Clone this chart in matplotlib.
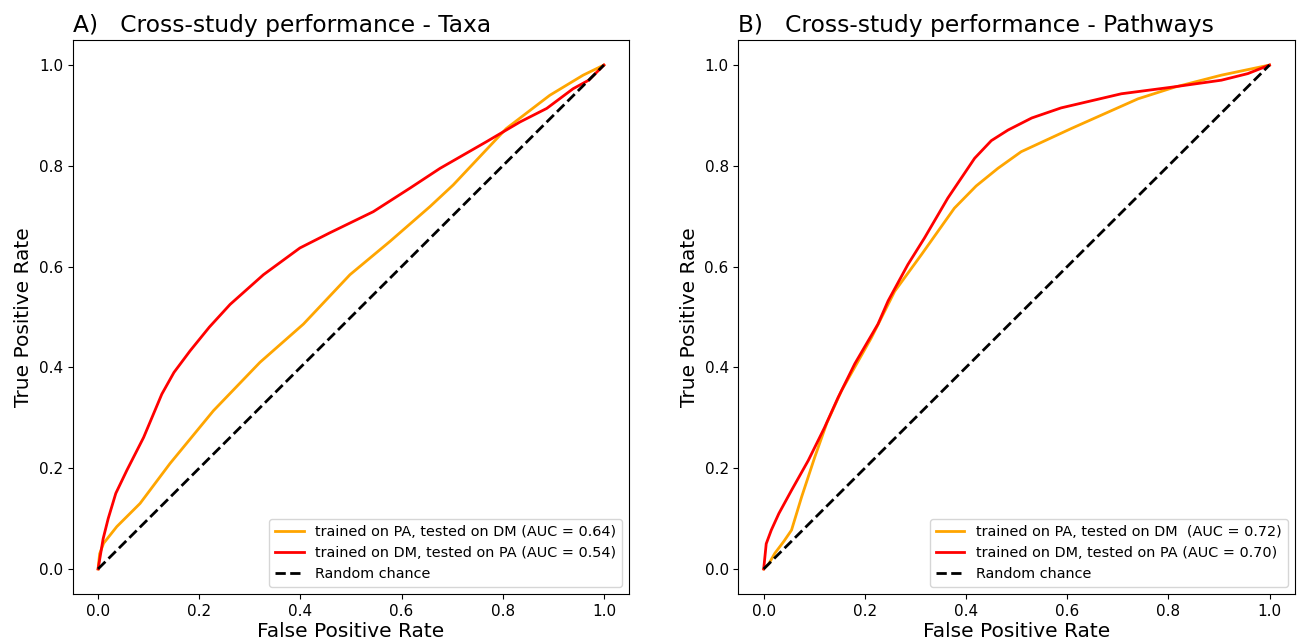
import numpy as np
import matplotlib.pyplot as plt

# ROC curve points (FPR, TPR)
taxa_pa_dm_fpr = [0.0, 0.003, 0.011, 0.037, 0.083, 0.142, 0.228, 0.32, 0.406, 0.498, 0.577, 0.656, 0.702, 0.807, 0.893, 0.959, 1.0]
taxa_pa_dm_tpr = [0.0, 0.03, 0.051, 0.084, 0.13, 0.209, 0.314, 0.41, 0.486, 0.584, 0.65, 0.719, 0.762, 0.874, 0.94, 0.98, 1.0]
taxa_dm_pa_fpr = [0.0, 0.01, 0.02, 0.035, 0.057, 0.09, 0.126, 0.15, 0.182, 0.22, 0.261, 0.327, 0.399, 0.458, 0.544, 0.617, 0.676, 0.768, 0.834, 0.887, 0.939, 0.97, 1.0]
taxa_dm_pa_tpr = [0.0, 0.06, 0.1, 0.15, 0.196, 0.261, 0.347, 0.39, 0.433, 0.48, 0.525, 0.584, 0.637, 0.667, 0.709, 0.756, 0.795, 0.848, 0.887, 0.914, 0.953, 0.97, 1.0]

path_pa_dm_fpr = [0.0, 0.01, 0.022, 0.04, 0.055, 0.075, 0.101, 0.125, 0.154, 0.213, 0.259, 0.312, 0.377, 0.42, 0.463, 0.509, 0.608, 0.74, 0.812, 0.905, 1.0]
path_pa_dm_tpr = [0.0, 0.01, 0.031, 0.055, 0.077, 0.143, 0.222, 0.29, 0.354, 0.459, 0.551, 0.624, 0.716, 0.76, 0.795, 0.828, 0.874, 0.933, 0.956, 0.98, 1.0]
path_dm_pa_fpr = [0.0, 0.005, 0.015, 0.03, 0.055, 0.088, 0.12, 0.147, 0.18, 0.226, 0.246, 0.285, 0.318, 0.364, 0.417, 0.45, 0.483, 0.53, 0.588, 0.707, 0.806, 0.905, 0.957, 1.0]
path_dm_pa_tpr = [0.0, 0.05, 0.077, 0.11, 0.156, 0.215, 0.28, 0.34, 0.407, 0.486, 0.532, 0.604, 0.657, 0.736, 0.815, 0.85, 0.871, 0.895, 0.915, 0.943, 0.956, 0.97, 0.983, 1.0]

titles = ["A)   Cross-study performance - Taxa", "B)   Cross-study performance - Pathways"]
labels_a = ["trained on PA, tested on DM (AUC = 0.64)", "trained on DM, tested on PA (AUC = 0.54)"]
labels_b = ["trained on PA, tested on DM  (AUC = 0.72)", "trained on DM, tested on PA (AUC = 0.70)"]

fig = plt.figure(figsize=(13, 6.43), dpi=100)
ax1 = fig.add_axes([0.056, 0.076, 0.428, 0.862])
ax2 = fig.add_axes([0.568, 0.076, 0.428, 0.862])

panels = [
    (ax1, taxa_pa_dm_fpr, taxa_pa_dm_tpr, taxa_dm_pa_fpr, taxa_dm_pa_tpr, labels_a, titles[0]),
    (ax2, path_pa_dm_fpr, path_pa_dm_tpr, path_dm_pa_fpr, path_dm_pa_tpr, labels_b, titles[1]),
]

for ax, f1, t1, f2, t2, labs, title in panels:
    ax.plot(f1, t1, color="orange", lw=2, label=labs[0])
    ax.plot(f2, t2, color="red", lw=2, label=labs[1])
    ax.plot([0, 1], [0, 1], color="black", lw=2, ls="--", label="Random chance")
    ax.set_xlim(-0.05, 1.05)
    ax.set_ylim(-0.05, 1.05)
    ax.set_xticks([0, 0.2, 0.4, 0.6, 0.8, 1.0])
    ax.set_yticks([0, 0.2, 0.4, 0.6, 0.8, 1.0])
    ax.tick_params(labelsize=11)
    ax.set_xlabel("False Positive Rate", fontsize=14.5, labelpad=2)
    ax.set_ylabel("True Positive Rate", fontsize=14.5)
    ax.set_title(title, fontsize=16.8, loc="left", pad=6)
    ax.legend(loc="lower right", fontsize=10.4)

fig.savefig("out.png", dpi=100)
